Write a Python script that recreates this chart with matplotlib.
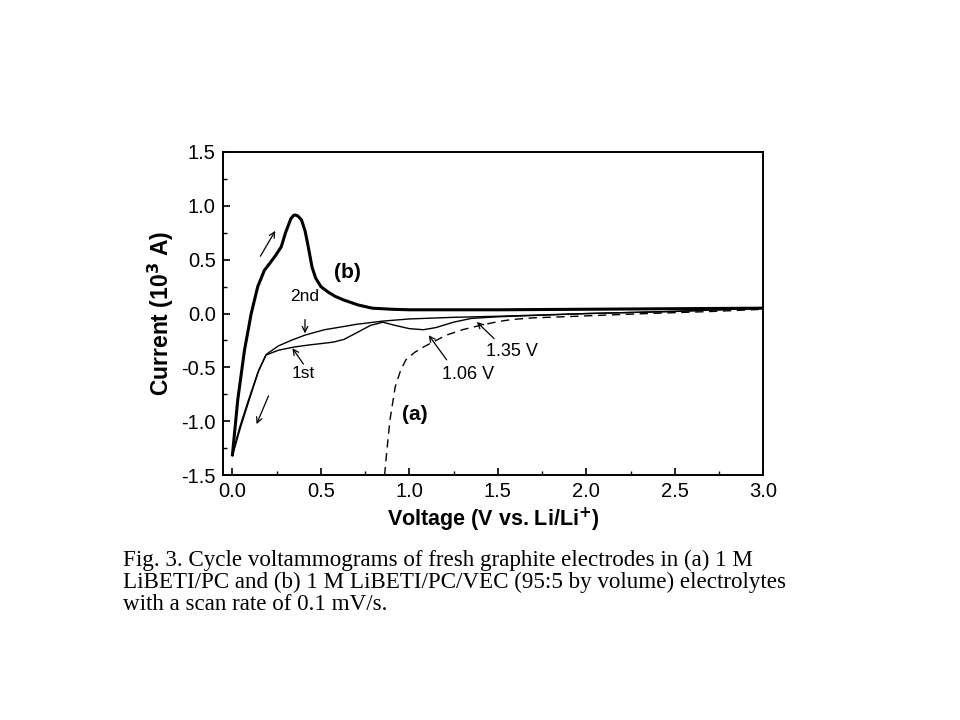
import matplotlib
matplotlib.use("Agg")
import matplotlib.pyplot as plt
from matplotlib.ticker import MultipleLocator

# anodic scan of (b), thick line
b_up_v = [0.0, 0.03, 0.068, 0.106, 0.143, 0.18, 0.24, 0.276, 0.30, 0.33, 0.345, 0.355, 0.37,
          0.39, 0.41, 0.425, 0.45, 0.47, 0.50, 0.54, 0.58, 0.63, 0.71, 0.79, 0.90, 1.0, 1.5,
          2.0, 2.5, 3.0]
b_up_i = [-1.31, -0.80, -0.34, 0.0, 0.25, 0.40, 0.53, 0.62, 0.75, 0.88, 0.91, 0.915, 0.905,
          0.87, 0.77, 0.65, 0.43, 0.33, 0.25, 0.20, 0.16, 0.125, 0.08, 0.05, 0.04, 0.035, 0.035,
          0.04, 0.045, 0.05]

# cathodic scans of (b)
c1_v = [3.0, 2.5, 2.0, 1.5, 1.35, 1.25, 1.15, 1.08, 1.00, 0.92, 0.85, 0.78, 0.70, 0.63, 0.57,
        0.52, 0.44, 0.35, 0.26, 0.19, 0.143, 0.087, 0.04, 0.0]
c1_i = [0.05, 0.02, 0.0, -0.03, -0.045, -0.08, -0.13, -0.15, -0.14, -0.11, -0.08, -0.11, -0.18,
        -0.24, -0.265, -0.275, -0.29, -0.31, -0.34, -0.385, -0.55, -0.82, -1.06, -1.30]
c2_v = [3.0, 2.5, 2.0, 1.5, 1.25, 1.0, 0.85, 0.70, 0.63, 0.52, 0.41, 0.33, 0.26, 0.19,
        0.15, 0.095, 0.045, 0.0]
c2_i = [0.05, 0.02, 0.0, -0.025, -0.035, -0.05, -0.07, -0.10, -0.12, -0.15, -0.20, -0.25,
        -0.30, -0.38, -0.52, -0.80, -1.06, -1.32]

# cathodic scan of (a), dashed
a_v = [0.86, 0.87, 0.89, 0.92, 0.95, 0.98, 1.03, 1.08, 1.15, 1.21, 1.30, 1.40, 1.50, 1.58,
       1.70, 1.87, 2.1, 2.34, 2.72, 3.0]
a_i = [-1.50, -1.32, -0.99, -0.68, -0.53, -0.43, -0.36, -0.31, -0.25, -0.20, -0.15, -0.11,
       -0.075, -0.055, -0.04, -0.03, -0.015, 0.0, 0.02, 0.04]

caption = ["Fig. 3. Cycle voltammograms of fresh graphite electrodes in (a) 1 M",
           "LiBETI/PC and (b) 1 M LiBETI/PC/VEC (95:5 by volume) electrolytes",
           "with a scan rate of 0.1 mV/s."]

plt.rcParams['font.family'] = ['Liberation Sans', 'DejaVu Sans']
plt.rcParams['axes.unicode_minus'] = False

fig = plt.figure(figsize=(9.6, 7.2), dpi=100)
ax = fig.add_axes([0.232, 0.340, 0.563, 0.449])

ax.plot(b_up_v, b_up_i, color="black", lw=2.2, solid_joinstyle="round")
ax.plot(c1_v, c1_i, color="black", lw=1.0)
ax.plot(c2_v, c2_i, color="black", lw=1.0)
ax.plot(a_v, a_i, color="black", lw=1.0, ls=(0, (6, 4)))

ax.set_xlim(-0.055, 3.0)
ax.set_ylim(-1.5, 1.5)
ax.xaxis.set_major_locator(MultipleLocator(0.5))
ax.xaxis.set_minor_locator(MultipleLocator(0.25))
ax.yaxis.set_major_locator(MultipleLocator(0.5))
ax.yaxis.set_minor_locator(MultipleLocator(0.25))
ax.tick_params(which="both", direction="in", top=False, right=False, labelsize=14.5, pad=5)
ax.tick_params(which="major", length=5, width=1.2)
ax.tick_params(which="minor", length=3, width=1.0)
for s in ax.spines.values():
    s.set_linewidth(1.4)

ax.set_xlabel("Voltage (V vs. Li/Li$^{\\mathbf{+}}$)", fontsize=15.5, fontweight="bold", labelpad=3)
ax.set_ylabel("Current (10$^{\\mathbf{3}}$ A)", fontsize=16.5, fontweight="bold", labelpad=4)

arrow = dict(arrowstyle="->", color="black", lw=0.9)
ax.annotate("", xy=(0.25, 0.79), xytext=(0.15, 0.51), arrowprops=arrow)
ax.annotate("", xy=(0.13, -1.05), xytext=(0.21, -0.74), arrowprops=arrow)
ax.annotate("", xy=(0.41, -0.21), xytext=(0.41, -0.03), arrowprops=arrow)
ax.annotate("", xy=(0.33, -0.30), xytext=(0.41, -0.49), arrowprops=arrow)
ax.annotate("", xy=(1.10, -0.18), xytext=(1.22, -0.45), arrowprops=arrow)
ax.annotate("", xy=(1.37, -0.06), xytext=(1.49, -0.25), arrowprops=arrow)

ax.text(0.41, 0.16, "2nd", fontsize=12.5, ha="center", va="center")
ax.text(0.40, -0.56, "1st", fontsize=12.5, ha="center", va="center")
ax.text(0.65, 0.38, "(b)", fontsize=15, fontweight="bold", ha="center", va="center")
ax.text(1.03, -0.94, "(a)", fontsize=15, fontweight="bold", ha="center", va="center")
ax.text(1.33, -0.57, "1.06 V", fontsize=13, ha="center", va="center")
ax.text(1.58, -0.35, "1.35 V", fontsize=13, ha="center", va="center")

for k, line in enumerate(caption):
    fig.text(0.128, 1 - (560 + 22.5 * k) / 720, line, fontsize=16.6,
             family="Liberation Serif", ha="left", va="center")

fig.savefig("out.png", dpi=100)
